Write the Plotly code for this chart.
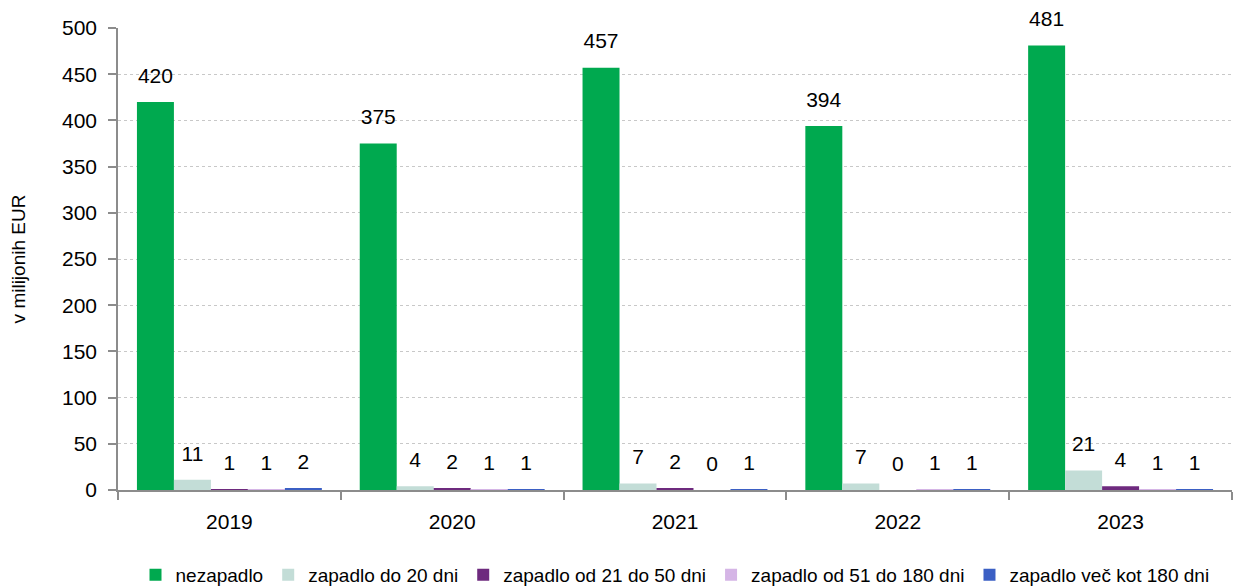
import plotly.graph_objects as go

years = ["2019", "2020", "2021", "2022", "2023"]
series_names = ["nezapadlo", "zapadlo do 20 dni", "zapadlo od 21 do 50 dni",
                "zapadlo od 51 do 180 dni", "zapadlo več kot 180 dni"]
nezapadlo = [420, 375, 457, 394, 481]
do20 = [11, 4, 7, 7, 21]
od21do50 = [1, 2, 2, 0, 4]
od51do180 = [1, 1, 0, 1, 1]
vec180 = [2, 1, 1, 1, 1]
colors = ["#00A94F", "#C3DDD7", "#6E2A7E", "#D5B5E6", "#3B5FC4"]

FONT = "Liberation Sans, Arial, sans-serif"

fig = go.Figure()
for name, vals, col in zip(series_names, [nezapadlo, do20, od21do50, od51do180, vec180], colors):
    fig.add_trace(go.Bar(
        x=years, y=vals, name=name, marker=dict(color=col, line=dict(width=0)),
        text=[str(v) for v in vals],
        texttemplate="<span style='font-size:21px'>%{text}</span><br> ",
        textposition="outside", constraintext="none", cliponaxis=False,
        textfont=dict(size=11, color="#000", family=FONT),
    ))

fig.update_layout(
    barmode="group", bargap=0.17, bargroupgap=0,
    width=1250, height=586,
    margin=dict(l=118, r=18, t=28, b=96, autoexpand=False),
    plot_bgcolor="white", paper_bgcolor="white",
    font=dict(family=FONT, size=20, color="#000"),
    legend=dict(orientation="h", x=0.5, xanchor="center", y=-0.184, yanchor="middle",
                font=dict(size=19, family=FONT), tracegroupgap=0),
    showlegend=True,
)
fig.update_yaxes(
    range=[0, 500], dtick=50, showgrid=True, gridcolor="#C8C8C8", griddash="dot", gridwidth=1,
    showline=True, linecolor="#8C8C8C", linewidth=1.5, ticks="outside", ticklen=8,
    tickcolor="#8C8C8C", tickwidth=1.5, zeroline=False, automargin=False,
    ticklabelstandoff=7,
    title=dict(text="v milijonih EUR", font=dict(size=19, family=FONT), standoff=31),
    tickfont=dict(size=21, family=FONT),
)
fig.update_xaxes(
    showline=True, linecolor="#8C8C8C", linewidth=1.5, ticks="outside", ticklen=8,
    tickcolor="#8C8C8C", tickwidth=1.5, tickson="boundaries", ticklabelstandoff=12,
    tickfont=dict(size=21, family=FONT), automargin=False,
)
fig.write_html("out.html", config={"displayModeBar": False},
               post_script="document.body.style.margin='0';")
